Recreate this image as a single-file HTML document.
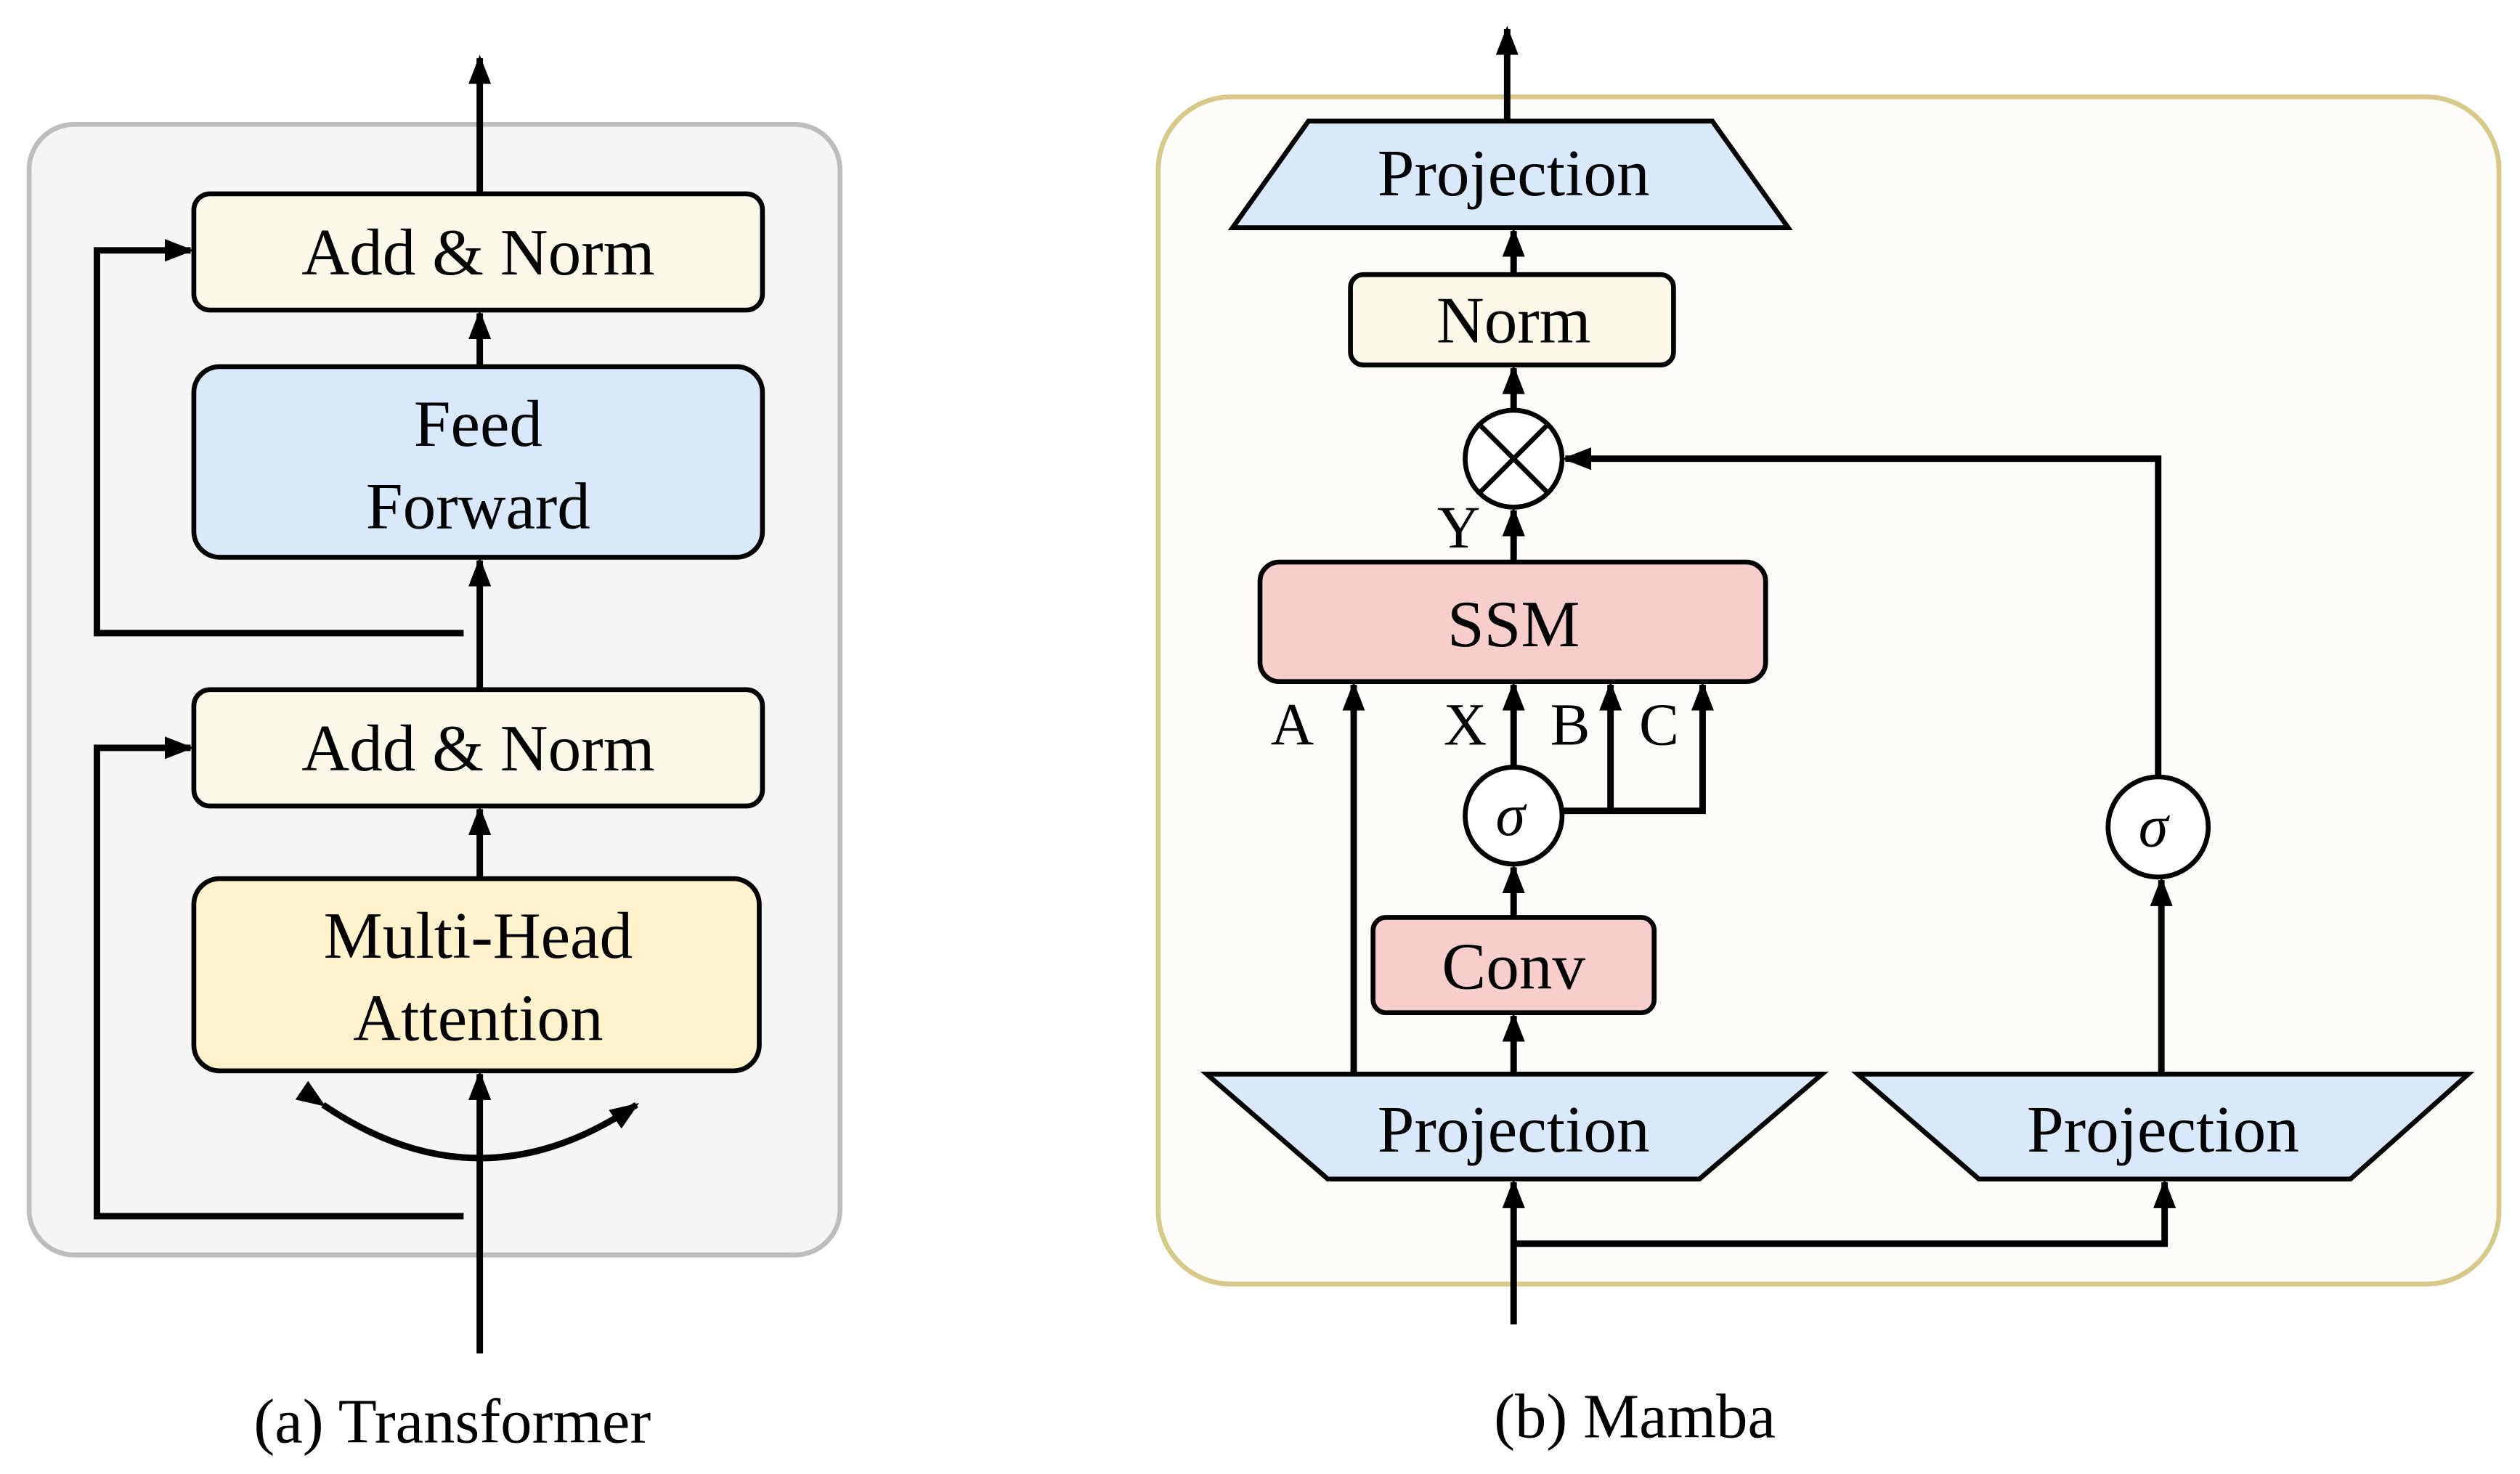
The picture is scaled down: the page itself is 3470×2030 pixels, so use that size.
<!DOCTYPE html>
<html><head><style>html,body{margin:0;padding:0;background:#fff}svg{display:block}text{font-family:"Liberation Serif","Times New Roman",serif}</style></head>
<body>
<svg width="3470" height="2030" viewBox="0 0 1560 912.6" preserveAspectRatio="none" xmlns="http://www.w3.org/2000/svg" font-family="'Liberation Serif', serif">
<defs>
<marker id="h" viewBox="0 0 18 14" refX="16" refY="7" markerWidth="18" markerHeight="14" markerUnits="userSpaceOnUse" orient="auto">
<path d="M0,0 L18,7 L0,14 Z" fill="#000"/>
</marker>
</defs>
<g stroke="#000" stroke-width="4" fill="none">
<rect x="18" y="77" width="502" height="700" rx="28" fill="#f5f5f5" stroke="#bdbdbd" stroke-width="3"/>
<line x1="297" y1="120" x2="297" y2="36" marker-end="url(#h)"/>
<rect x="120" y="120" width="352" height="72" rx="10" fill="#fcf8ea" stroke-width="3"/>
<rect x="120" y="227" width="352" height="118" rx="16" fill="#dae8fc" stroke-width="3"/>
<rect x="120" y="427" width="352" height="72" rx="10" fill="#fcf8ea" stroke-width="3"/>
<rect x="120" y="544" width="350" height="119" rx="16" fill="#fff2cc" stroke-width="3"/>
<line x1="297" y1="227" x2="297" y2="194" marker-end="url(#h)"/>
<line x1="297" y1="427" x2="297" y2="347" marker-end="url(#h)"/>
<line x1="297" y1="544" x2="297" y2="501" marker-end="url(#h)"/>
<line x1="297" y1="838" x2="297" y2="665" marker-end="url(#h)"/>
<polyline points="287,753 60,753 60,463 118,463" marker-end="url(#h)"/>
<polyline points="287,392 60,392 60,155 118,155" marker-end="url(#h)"/>
<path d="M200,684 Q297,750 394,684" marker-start="url(#h)" marker-end="url(#h)"/>
<rect x="717" y="60" width="830" height="735" rx="45" fill="#fdfcf8" stroke="#d6c98a" stroke-width="3"/>
<line x1="933" y1="75" x2="933" y2="18" marker-end="url(#h)"/>
<polygon points="810,75 1060,75 1107,141 763,141" fill="#dae8fc" stroke-width="3"/>
<rect x="836" y="170" width="200" height="56" rx="8" fill="#fcf8ea" stroke-width="3"/>
<line x1="937" y1="170" x2="937" y2="143" marker-end="url(#h)"/>
<line x1="937" y1="254" x2="937" y2="228" marker-end="url(#h)"/>
<circle cx="937" cy="284" r="30" fill="#fff" stroke-width="3"/>
<line x1="916" y1="263" x2="958" y2="305" stroke-width="3"/>
<line x1="958" y1="263" x2="916" y2="305" stroke-width="3"/>
<line x1="937" y1="348" x2="937" y2="316" marker-end="url(#h)"/>
<rect x="780" y="348" width="313" height="74" rx="12" fill="#f8cecc" stroke-width="3"/>
<line x1="838" y1="665" x2="838" y2="424" marker-end="url(#h)"/>
<line x1="937" y1="475" x2="937" y2="424" marker-end="url(#h)"/>
<polyline points="967,502 1054,502 1054,424" marker-end="url(#h)"/>
<line x1="997" y1="502" x2="997" y2="424" marker-end="url(#h)"/>
<circle cx="937" cy="505" r="30" fill="#fff" stroke-width="3"/>
<line x1="937" y1="568" x2="937" y2="537" marker-end="url(#h)"/>
<rect x="850" y="568" width="174" height="59" rx="8" fill="#f8cecc" stroke-width="3"/>
<line x1="937" y1="665" x2="937" y2="629" marker-end="url(#h)"/>
<polygon points="747,665 1128,665 1052,730 822,730" fill="#dae8fc" stroke-width="3"/>
<polygon points="1150,665 1528,665 1455,730 1225,730" fill="#dae8fc" stroke-width="3"/>
<line x1="937" y1="820" x2="937" y2="732" marker-end="url(#h)"/>
<polyline points="937,770 1340,770 1340,732" marker-end="url(#h)"/>
<line x1="1338" y1="665" x2="1338" y2="545" marker-end="url(#h)"/>
<circle cx="1336" cy="512" r="31" fill="#fff" stroke-width="3"/>
<polyline points="1336,481 1336,284 969,284" marker-end="url(#h)"/>
</g>
<g fill="#000" font-size="41" text-anchor="middle">
<text x="296" y="170">Add &amp; Norm</text>
<text x="296" y="276">Feed</text>
<text x="296" y="327">Forward</text>
<text x="296" y="477">Add &amp; Norm</text>
<text x="296" y="593">Multi-Head</text>
<text x="296" y="644">Attention</text>
<text x="280" y="893" font-size="39">(a) Transformer</text>
<text x="937" y="121">Projection</text>
<text x="937" y="212">Norm</text>
<text x="903" y="339" font-size="37">Y</text>
<text x="937" y="400">SSM</text>
<text x="800" y="461" font-size="37">A</text>
<text x="907" y="461" font-size="37">X</text>
<text x="972" y="461" font-size="37">B</text>
<text x="1027" y="461" font-size="37">C</text>
<text x="935" y="517" font-size="37" font-style="italic">σ</text>
<text x="1333" y="524" font-size="37" font-style="italic">σ</text>
<text x="937" y="612">Conv</text>
<text x="937" y="713">Projection</text>
<text x="1339" y="713">Projection</text>
<text x="1012" y="890" font-size="39">(b) Mamba</text>
</g>
</svg>
</body></html>
